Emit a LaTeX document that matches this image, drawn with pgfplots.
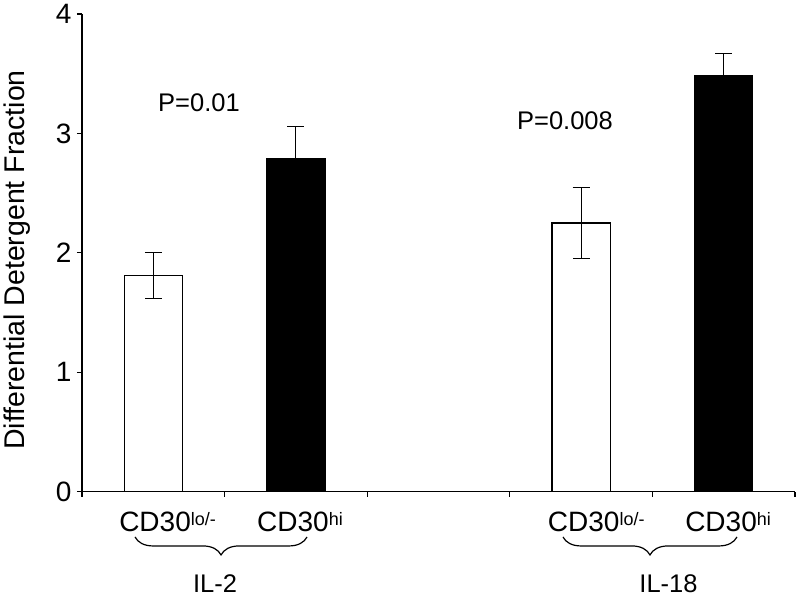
\documentclass[border=0pt]{standalone}
\usepackage{pgfplots}
\pgfplotsset{compat=1.18}
\usepackage{fontspec}
\setmainfont{Liberation Sans}
\usetikzlibrary{decorations.pathreplacing}

\begin{document}
\begin{tikzpicture}
\begin{axis}[
  at={(0pt,0pt)}, anchor=south west,
  scale only axis, width=713pt, height=477.7pt,
  xmin=-0.5, xmax=4.5, ymin=0, ymax=4,
  axis lines*=left,
  axis line style={line width=1.2pt, black},
  ytick={0,1,2,3,4},
  xtick={-0.5,0.5,1.5,2.5,3.5,4.5},
  xticklabels={},
  tick align=outside,
  major tick length=5pt,
  tick style={line width=1.2pt, black},
  /pgf/number format/assume math mode=true,
  yticklabel style={font=\fontsize{28}{28}\selectfont, xshift=-2pt},
  clip=false,
  bar width=0.407,
]
% white bars (CD30 lo/-)
\addplot[ybar, fill=white, draw=black, line width=1.2pt,
  error bars/.cd, y dir=both, y explicit,
  error bar style={line width=1.2pt, black},
  error mark options={rotate=90, mark size=8.5pt, line width=1.2pt, black}]
  coordinates {(0,1.81) +- (0,0.19) (3,2.25) +- (0,0.30)};
% black bars (CD30 hi)
\addplot[ybar, fill=black, draw=black, line width=1.2pt,
  error bars/.cd, y dir=both, y explicit,
  error bar style={line width=1.2pt, black},
  error mark options={rotate=90, mark size=8.5pt, line width=1.2pt, black}]
  coordinates {(1,2.79) +- (0,0.27) (4,3.48) +- (0,0.19)};

% category labels
\node[anchor=base west, inner sep=0, font=\fontsize{28}{28}\selectfont] at (axis cs:-0.240,-0.335) {CD30\raisebox{6pt}{\fontsize{18}{18}\selectfont lo/-}};
\node[anchor=base west, inner sep=0, font=\fontsize{28}{28}\selectfont] at (axis cs:0.727,-0.335) {CD30\raisebox{6pt}{\fontsize{18}{18}\selectfont hi}};
\node[anchor=base west, inner sep=0, font=\fontsize{28}{28}\selectfont] at (axis cs:2.766,-0.335) {CD30\raisebox{6pt}{\fontsize{18}{18}\selectfont lo/-}};
\node[anchor=base west, inner sep=0, font=\fontsize{28}{28}\selectfont] at (axis cs:3.729,-0.335) {CD30\raisebox{6pt}{\fontsize{18}{18}\selectfont hi}};

% braces
\draw[decorate, decoration={brace, mirror, amplitude=18pt}, line width=1.2pt] (axis cs:-0.128,-0.379) -- (axis cs:1.078,-0.379);
\draw[decorate, decoration={brace, mirror, amplitude=18pt}, line width=1.2pt] (axis cs:2.873,-0.379) -- (axis cs:4.093,-0.379);

% group labels
\node[anchor=base, inner sep=0, font=\fontsize{25.5}{25.5}\selectfont] at (axis cs:0.433,-0.840) {IL-2};
\node[anchor=base, inner sep=0, font=\fontsize{25.5}{25.5}\selectfont] at (axis cs:3.613,-0.840) {IL-18};

% p-values
\node[anchor=base west, inner sep=0, font=\fontsize{25.5}{25.5}\selectfont] at (axis cs:0.033,3.183) {P=0.01};
\node[anchor=base west, inner sep=0, font=\fontsize{25.5}{25.5}\selectfont] at (axis cs:2.550,3.029) {P=0.008};

% y label
\node[rotate=90, anchor=base, inner sep=0, font=\fontsize{28.5}{28.5}\selectfont] at (axis cs:-0.900,1.94) {Differential Detergent Fraction};
\end{axis}
\pgfresetboundingbox
\path[use as bounding box] (-82pt,-107.3pt) rectangle (714pt,491.7pt);
\end{tikzpicture}
\end{document}
